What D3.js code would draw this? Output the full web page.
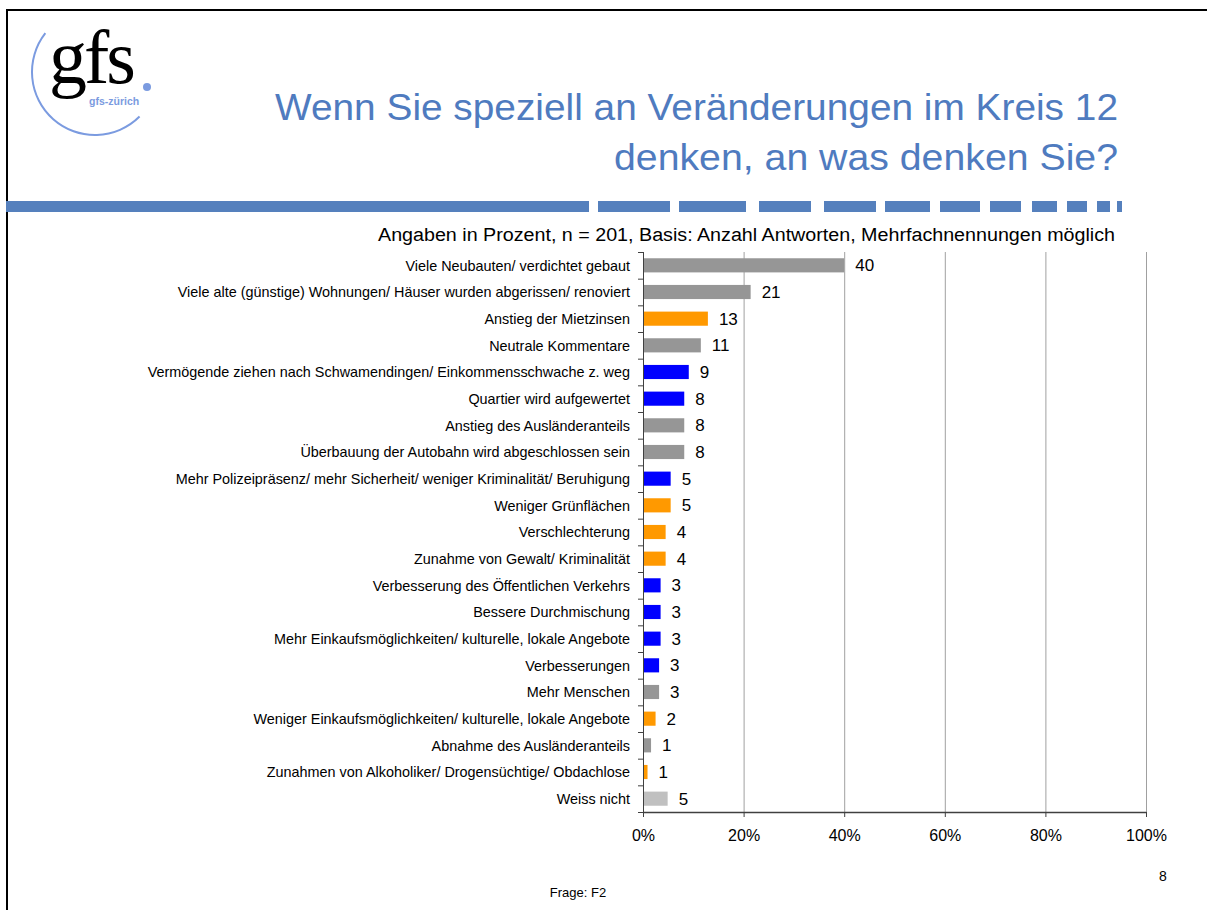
<!DOCTYPE html>
<html>
<head>
<meta charset="utf-8">
<script src="https://cdn.jsdelivr.net/npm/d3@7"></script>
<style>
  body { margin:0; background:#fff; }
  text { font-family: "Liberation Sans", Arial, sans-serif; }
</style>
</head>
<body>
<div id="chart"></div>
<script>
var categories = [
    "Viele Neubauten/ verdichtet gebaut",
    "Viele alte (günstige) Wohnungen/ Häuser wurden abgerissen/ renoviert",
    "Anstieg der Mietzinsen",
    "Neutrale Kommentare",
    "Vermögende ziehen nach Schwamendingen/ Einkommensschwache z. weg",
    "Quartier wird aufgewertet",
    "Anstieg des Ausländeranteils",
    "Überbauung der Autobahn wird abgeschlossen sein",
    "Mehr Polizeipräsenz/ mehr Sicherheit/ weniger Kriminalität/ Beruhigung",
    "Weniger Grünflächen",
    "Verschlechterung",
    "Zunahme von Gewalt/ Kriminalität",
    "Verbesserung des Öffentlichen Verkehrs",
    "Bessere Durchmischung",
    "Mehr Einkaufsmöglichkeiten/ kulturelle, lokale Angebote",
    "Verbesserungen",
    "Mehr Menschen",
    "Weniger Einkaufsmöglichkeiten/ kulturelle, lokale Angebote",
    "Abnahme des Ausländeranteils",
    "Zunahmen von Alkoholiker/ Drogensüchtige/ Obdachlose",
    "Weiss nicht"
]
var values = [40.0, 21.4, 12.9, 11.5, 9.1, 8.2, 8.2, 8.2, 5.5, 5.5, 4.5, 4.5, 3.5, 3.5, 3.5, 3.2, 3.2, 2.5, 1.6, 0.9, 4.9]
var valueLabels = [40, 21, 13, 11, 9, 8, 8, 8, 5, 5, 4, 4, 3, 3, 3, 3, 3, 2, 1, 1, 5]
var groups = ["neutral", "neutral", "negativ", "neutral", "positiv", "positiv", "neutral", "neutral",
    "positiv", "negativ", "negativ", "negativ", "positiv", "positiv", "positiv", "positiv",
    "neutral", "negativ", "neutral", "negativ", "weissnicht"]
var xTicks = [0, 20, 40, 60, 80, 100]

// header band segments (decoration)
var dashes = [[6,589],[598,670],[679,746],[759,811],[824,876],[885,930],[940,980],[990,1021],[1032,1057],[1067,1087],[1097,1110],[1117,1122]]

var width = 1207, height = 910
var margin = {top:252, left:643, right:61, bottom:98}

var svg = d3.select('#chart')
    .append('svg')
    .attr('width', width)
    .attr('height', height)

// frame
svg.append('line').attr('x1',7).attr('x2',7).attr('y1',9).attr('y2',height)
    .attr('stroke','#000').attr('stroke-width',2)
svg.append('line').attr('x1',6).attr('x2',width).attr('y1',10).attr('y2',10)
    .attr('stroke','#000').attr('stroke-width',2)

// logo
var logo = svg.append('g')
logo.append('path')
    .attr('transform','translate(95,72)')
    .attr('d', d3.arc().innerRadius(62).outerRadius(64)
        .startAngle(135 * Math.PI / 180).endAngle(308 * Math.PI / 180)())
    .style('fill','#7b9be0')
logo.append('text')
    .attr('x',49).attr('y',83)
    .style('font-family','"Liberation Serif", "DejaVu Serif", serif')
    .style('font-size','76px')
    .attr('letter-spacing','-3')
    .style('fill','#000')
    .text('gfs')
logo.append('circle').attr('cx',147).attr('cy',87).attr('r',4).style('fill','#7b9be0')
logo.append('text')
    .attr('x',89).attr('y',105)
    .style('font-size','10.5px').style('font-weight','bold')
    .style('fill','#7b9be0')
    .text('gfs-zürich')

// title
var titleColor = '#4f7bbf'
svg.append('text')
    .attr('x',1118).attr('y',120)
    .attr('text-anchor','end')
    .style('font-size','36px').style('fill',titleColor)
    .attr('textLength',843).attr('lengthAdjust','spacingAndGlyphs')
    .text('Wenn Sie speziell an Veränderungen im Kreis 12')
svg.append('text')
    .attr('x',1118).attr('y',170)
    .attr('text-anchor','end')
    .style('font-size','36px').style('fill',titleColor)
    .attr('textLength',504).attr('lengthAdjust','spacingAndGlyphs')
    .text('denken, an was denken Sie?')

svg.selectAll('.dash')
    .data(dashes)
    .enter().append('rect')
    .attr('class','dash')
    .attr('x', function(d){ return d[0] })
    .attr('width', function(d){ return d[1] - d[0] })
    .attr('y',201).attr('height',11)
    .style('fill','#5580bd')

svg.append('text')
    .attr('x',1115).attr('y',241)
    .attr('text-anchor','end')
    .style('font-size','18px').style('fill','#000')
    .attr('textLength',737).attr('lengthAdjust','spacingAndGlyphs')
    .text('Angaben in Prozent, n = 201, Basis: Anzahl Antworten, Mehrfachnennungen möglich')

var x = d3.scaleLinear()
    .domain([0,100])
    .range([margin.left, width - margin.right])

var y = d3.scaleBand()
    .domain(categories)
    .range([margin.top, height - margin.bottom])
    .paddingInner(0.47)
    .paddingOuter(0.235)

var color = d3.scaleOrdinal()
    .domain(["neutral","negativ","positiv","weissnicht"])
    .range(["#969696","#ff9900","#0000ff","#c0c0c0"])

// gridlines
svg.selectAll('.grid')
    .data(xTicks.slice(1))
    .enter().append('line')
    .attr('class','grid')
    .attr('x1', function(d){ return x(d) + 0.5 })
    .attr('x2', function(d){ return x(d) + 0.5 })
    .attr('y1', margin.top)
    .attr('y2', height - margin.bottom)
    .attr('stroke','#a0a0a0')

// bars
svg.selectAll('.bar')
    .data(categories)
    .enter().append('rect')
    .attr('class','bar')
    .attr('x', x(0))
    .attr('y', function(d){ return y(d) })
    .attr('height', y.bandwidth())
    .attr('width', function(d,i){ return x(values[i]) - x(0) })
    .style('fill', function(d,i){ return color(groups[i]) })

svg.selectAll('.val')
    .data(categories)
    .enter().append('text')
    .attr('class','val')
    .attr('x', function(d,i){ return x(values[i]) + 11 })
    .attr('y', function(d){ return y(d) + y.bandwidth() / 2 })
    .attr('dy','0.36em')
    .style('font-size','17px')
    .text(function(d,i){ return valueLabels[i] })

// y axis
var step = y.step()
var yAxis = svg.append('g')
yAxis.append('line')
    .attr('x1', x(0) + 0.5).attr('x2', x(0) + 0.5)
    .attr('y1', margin.top).attr('y2', height - margin.bottom)
    .attr('stroke','#404040')
yAxis.selectAll('.ytick')
    .data(d3.range(categories.length + 1))
    .enter().append('line')
    .attr('x1', x(0) - 5).attr('x2', x(0))
    .attr('y1', function(i){ return margin.top + i * step + 0.5 })
    .attr('y2', function(i){ return margin.top + i * step + 0.5 })
    .attr('stroke','#404040')
yAxis.selectAll('.ylab')
    .data(categories)
    .enter().append('text')
    .attr('x', 630)
    .attr('y', function(d){ return y(d) + y.bandwidth() / 2 })
    .attr('dy','0.36em')
    .attr('text-anchor','end')
    .style('font-size','14.4px')
    .text(function(d){ return d })

// x axis
var xAxis = svg.append('g')
    .attr('transform','translate(0,' + (height - margin.bottom) + ')')
    .call(d3.axisBottom(x).tickValues(xTicks).tickSize(5).tickSizeOuter(0)
        .tickFormat(function(d){ return d + '%' }))
xAxis.select('.domain').attr('stroke','#404040').attr('stroke-width',1.5)
xAxis.selectAll('.tick line').attr('stroke','#404040')
xAxis.selectAll('.tick text')
    .attr('y', 18)
    .style('font-family','"Liberation Sans", Arial, sans-serif')
    .style('font-size','16px')
    .attr('fill','#000')

svg.append('text')
    .attr('x',1163).attr('y',881)
    .attr('text-anchor','middle')
    .style('font-size','14px')
    .text('8')
svg.append('text')
    .attr('x',578).attr('y',897)
    .attr('text-anchor','middle')
    .style('font-size','13px')
    .text('Frage: F2')
</script>
</body>
</html>
